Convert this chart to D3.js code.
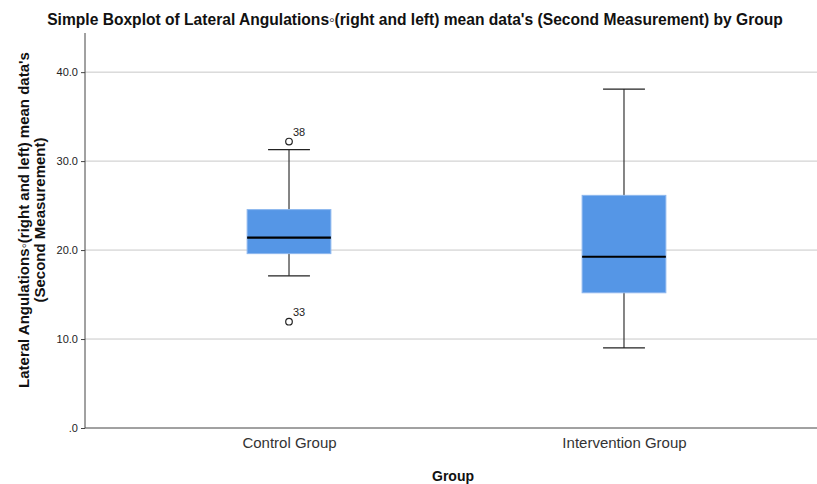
<!DOCTYPE html>
<html>
<head>
<meta charset="utf-8">
<script src="https://cdn.jsdelivr.net/npm/d3@7"></script>
<style>
  body { margin: 0; background: #fff; }
  text { font-family: "Liberation Sans", Arial, sans-serif; }
</style>
</head>
<body>
<svg id="chart" width="817" height="484"></svg>
<script>
// groups and five-number summaries
let groups = ['Control Group', 'Intervention Group'];
let q1 = [19.6, 15.2];
let median = [21.4, 19.25];
let q3 = [24.55, 26.15];
let whiskerLow = [17.1, 9.0];
let whiskerHigh = [31.3, 38.1];
let outlierGroup = ['Control Group', 'Control Group'];
let outlierValue = [32.2, 11.95];
let outlierLabel = ['38', '33'];
let yTicks = [0, 10, 20, 30, 40];

let margin = {top: 33, left: 85, bottom: 56};
let width = 817, height = 484;
let plotBottom = height - margin.bottom;

let svg = d3.select('#chart');

let yScale = d3.scaleLinear()
    .domain([0, 44.4])
    .range([plotBottom, margin.top]);

let xScale = d3.scalePoint()
    .domain(groups)
    .range([margin.left, 828])
    .padding(0.609);

let step = xScale.step();
let boxW = step * 0.25;
let capW = step * 0.125;

// gridlines
svg.append('g')
    .selectAll('line')
    .data(yTicks.filter(d => d > 0))
    .enter()
    .append('line')
    .attr('x1', margin.left)
    .attr('x2', width)
    .attr('y1', d => yScale(d))
    .attr('y2', d => yScale(d))
    .attr('stroke', '#c8c8c8')
    .attr('stroke-width', 1);

// y axis
let yAxis = d3.axisLeft(yScale)
    .tickValues(yTicks)
    .tickSize(4)
    .tickPadding(3)
    .tickFormat(d => d === 0 ? '.0' : d3.format('.1f')(d));
let yg = svg.append('g')
    .attr('transform', 'translate(' + margin.left + ',0)')
    .call(yAxis);
yg.select('.domain').remove();
yg.selectAll('line').attr('stroke', '#444');
yg.selectAll('text').attr('font-size', 11).attr('fill', '#222');

svg.append('line')
    .attr('x1', margin.left).attr('x2', margin.left)
    .attr('y1', margin.top).attr('y2', plotBottom)
    .attr('stroke', '#444');

// x axis
let xAxis = d3.axisBottom(xScale).tickSize(0).tickPadding(9);
let xg = svg.append('g')
    .attr('transform', 'translate(0,' + plotBottom + ')')
    .call(xAxis);
xg.select('.domain').remove();
xg.selectAll('text').attr('font-size', 15).attr('fill', '#333');

svg.append('line')
    .attr('x1', margin.left).attr('x2', width)
    .attr('y1', plotBottom).attr('y2', plotBottom)
    .attr('stroke', '#444');

// boxes
let boxes = svg.append('g')
    .selectAll('g')
    .data(groups)
    .enter()
    .append('g');

boxes.append('line')
    .attr('x1', d => xScale(d)).attr('x2', d => xScale(d))
    .attr('y1', (d, i) => yScale(whiskerHigh[i]))
    .attr('y2', (d, i) => yScale(whiskerLow[i]))
    .attr('stroke', '#333').attr('stroke-width', 1.2);

[whiskerHigh, whiskerLow].forEach(function (arr) {
    boxes.append('line')
        .attr('x1', d => xScale(d) - capW / 2)
        .attr('x2', d => xScale(d) + capW / 2)
        .attr('y1', (d, i) => yScale(arr[i]))
        .attr('y2', (d, i) => yScale(arr[i]))
        .attr('stroke', '#222').attr('stroke-width', 1.2);
});

boxes.append('rect')
    .attr('x', d => xScale(d) - boxW / 2)
    .attr('width', boxW)
    .attr('y', (d, i) => yScale(q3[i]))
    .attr('height', (d, i) => yScale(q1[i]) - yScale(q3[i]))
    .attr('fill', '#5596e6')
    .attr('stroke', '#8db7ee')
    .attr('stroke-width', 1);

boxes.append('line')
    .attr('x1', d => xScale(d) - boxW / 2)
    .attr('x2', d => xScale(d) + boxW / 2)
    .attr('y1', (d, i) => yScale(median[i]))
    .attr('y2', (d, i) => yScale(median[i]))
    .attr('stroke', '#000').attr('stroke-width', 2.2);

// outliers
let outs = svg.append('g')
    .selectAll('g')
    .data(outlierValue)
    .enter()
    .append('g');

outs.append('circle')
    .attr('cx', (d, i) => xScale(outlierGroup[i]))
    .attr('cy', d => yScale(d))
    .attr('r', 3.3)
    .attr('fill', '#fff')
    .attr('stroke', '#222')
    .attr('stroke-width', 1.2);

outs.append('text')
    .attr('x', (d, i) => xScale(outlierGroup[i]) + 4)
    .attr('y', d => yScale(d) - 6)
    .attr('font-size', 11)
    .attr('fill', '#222')
    .text((d, i) => outlierLabel[i]);

// title and axis titles
svg.append('text')
    .attr('x', 415)
    .attr('y', 25)
    .attr('text-anchor', 'middle')
    .attr('font-size', 15.6)
    .attr('font-weight', 'bold')
    .attr('fill', '#111')
    .text("Simple Boxplot of Lateral Angulations\u25E6(right and left) mean data's (Second Measurement) by Group");

let yTitle = svg.append('text')
    .attr('transform', 'translate(29,220) rotate(-90)')
    .attr('text-anchor', 'middle')
    .attr('font-size', 15)
    .attr('font-weight', 'bold')
    .attr('fill', '#111');
yTitle.append('tspan').attr('x', 0).attr('dy', 0)
    .text("Lateral Angulations\u25E6(right and left) mean data's");
yTitle.append('tspan').attr('x', 0).attr('dy', 16)
    .text('(Second Measurement)');

svg.append('text')
    .attr('x', 453)
    .attr('y', 481)
    .attr('text-anchor', 'middle')
    .attr('font-size', 14)
    .attr('font-weight', 'bold')
    .attr('fill', '#111')
    .text('Group');
</script>
</body>
</html>
